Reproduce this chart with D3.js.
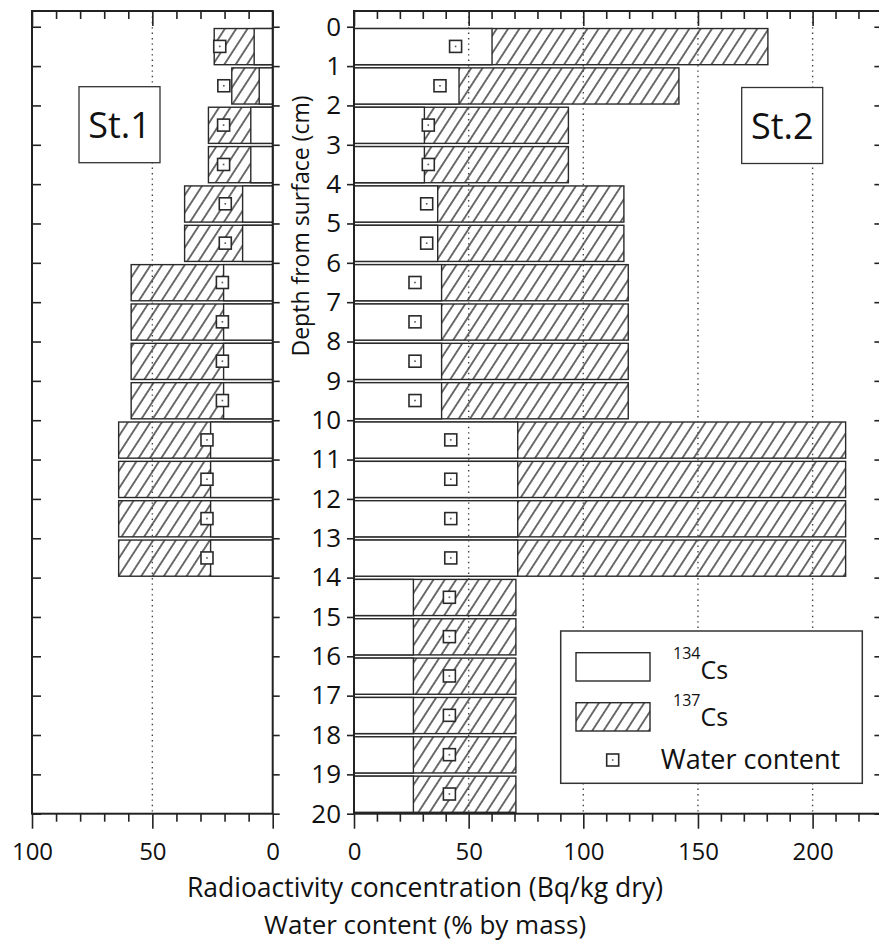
<!DOCTYPE html>
<html>
<head>
<meta charset="utf-8">
<style>
  body { margin: 0; background: #fff; }
  text { font-family: "Open Sans", "Noto Sans", sans-serif; fill: #111; }
</style>
</head>
<body>
<svg id="chart" width="879" height="942"></svg>
<script src="https://d3js.org/d3.v7.min.js"></script>
<script>
// depth intervals (cm): row i spans i..i+1
const depths = [0, 1, 2, 3, 4, 5, 6, 7, 8, 9, 10, 11, 12, 13, 14, 15, 16, 17, 18, 19];
const depthTicks = [0, 1, 2, 3, 4, 5, 6, 7, 8, 9, 10, 11, 12, 13, 14, 15, 16, 17, 18, 19, 20];

// St.1 (Bq/kg dry, water %)
const st1Cs134 = [7.7, 5.6, 9.1, 9.1, 12.5, 12.5, 20.4, 20.4, 20.4, 20.4, 25.8, 25.8, 25.8, 25.8, null, null, null, null, null, null];
const st1Cs137 = [24.3, 17, 26.7, 26.7, 36.6, 36.6, 58.8, 58.8, 58.8, 58.8, 64, 64, 64, 64, null, null, null, null, null, null];
const st1Water = [22, 20.3, 20.4, 20.4, 19.7, 19.7, 20.9, 20.9, 20.9, 20.9, 27.3, 27.3, 27.3, 27.3, null, null, null, null, null, null];

// St.2
const st2Cs134 = [60.2, 45.8, 30.7, 30.7, 36.5, 36.5, 38.2, 38.2, 38.2, 38.2, 71.4, 71.4, 71.4, 71.4, 25.9, 25.9, 25.9, 25.9, 25.9, 25.9];
const st2Cs137 = [180.5, 141.7, 93.5, 93.5, 117.7, 117.7, 119.6, 119.6, 119.6, 119.6, 214.4, 214.4, 214.4, 214.4, 70.6, 70.6, 70.6, 70.6, 70.6, 70.6];
const st2Water = [44.3, 37.5, 32.4, 32.4, 31.7, 31.7, 26.6, 26.6, 26.6, 26.6, 42.2, 42.2, 42.2, 42.2, 41.6, 41.6, 41.6, 41.6, 41.6, 41.6];

const st1Ticks = [0, 10, 20, 30, 40, 50, 60, 70, 80, 90, 100];
const st2Ticks = [0, 10, 20, 30, 40, 50, 60, 70, 80, 90, 100, 110, 120, 130, 140, 150, 160, 170, 180, 190, 200, 210, 220, 230];
const st1Grid = [50];
const st2Grid = [50, 100, 150, 200];

const svg = d3.select("#chart");
const yTop = 11, yBottom = 813.7;
const ink = "#222";

const y = d3.scaleLinear().domain([-0.4, 20]).range([yTop, yBottom]);

// hatch for 137Cs
const defs = svg.append("defs");
const hatch = defs.append("pattern")
  .attr("id", "hatch")
  .attr("patternUnits", "userSpaceOnUse")
  .attr("width", 9.5).attr("height", 9.5)
  .attr("patternTransform", "rotate(33)");
hatch.append("rect").attr("width", 9.5).attr("height", 9.5).attr("fill", "#fff");
hatch.append("line")
  .attr("x1", 4.75).attr("y1", -1).attr("x2", 4.75).attr("y2", 10.5)
  .attr("stroke", "#222").attr("stroke-width", 1.3);

function drawPanel(p) {
  const x = p.x;
  const g = svg.append("g");
  const [x0, x1] = x.range();

  // 137Cs bars (hatched), 134Cs (white) over them
  const rows = depths.filter(d => p.cs137[d] != null);
  g.selectAll("rect.cs137").data(rows).join("rect")
    .attr("class", "cs137")
    .attr("x", d => Math.min(x(0), x(p.cs137[d])))
    .attr("width", d => Math.abs(x(p.cs137[d]) - x(0)))
    .attr("y", d => y(d) + 1.8)
    .attr("height", d => y(d + 1) - y(d) - 3.2)
    .attr("fill", "url(#hatch)")
    .attr("stroke", "#2a2a2a").attr("stroke-width", 1.4);
  g.selectAll("rect.cs134").data(rows).join("rect")
    .attr("class", "cs134")
    .attr("x", d => Math.min(x(0), x(p.cs134[d])))
    .attr("width", d => Math.abs(x(p.cs134[d]) - x(0)))
    .attr("y", d => y(d) + 1.8)
    .attr("height", d => y(d + 1) - y(d) - 3.2)
    .attr("fill", "#fff")
    .attr("stroke", "#2a2a2a").attr("stroke-width", 1.4);

  // dotted grid
  g.selectAll("line.grid").data(p.grid).join("line")
    .attr("class", "grid")
    .attr("x1", d => x(d)).attr("x2", d => x(d))
    .attr("y1", yTop).attr("y2", yBottom)
    .attr("stroke", "#444").attr("stroke-width", 1.4)
    .attr("stroke-dasharray", "1.4,4");

  // water content markers
  const wrows = depths.filter(d => p.water[d] != null);
  const mk = g.selectAll("g.water").data(wrows).join("g")
    .attr("class", "water")
    .attr("transform", d => `translate(${x(p.water[d])},${y(d + 0.5)})`);
  mk.append("rect").attr("x", -6).attr("y", -6).attr("width", 12).attr("height", 12)
    .attr("fill", "#fff").attr("stroke", "#2a2a2a").attr("stroke-width", 1.6);
  mk.append("rect").attr("x", -0.8).attr("y", -0.8).attr("width", 1.6).attr("height", 1.6)
    .attr("fill", "#555");

  // frame
  g.append("rect")
    .attr("x", x0).attr("y", yTop)
    .attr("width", x1 - x0).attr("height", yBottom - yTop)
    .attr("fill", "none").attr("stroke", ink).attr("stroke-width", 2);

  // x ticks, all pointing down
  const minor = p.ticks.filter(v => v % 50 !== 0);
  const major = p.ticks.filter(v => v % 50 === 0);
  [yTop, yBottom].forEach(ty => {
    g.append("g").attr("transform", `translate(0,${ty})`)
      .call(d3.axisBottom(x).tickValues(minor).tickSize(8).tickFormat(""));
    g.append("g").attr("class", "xmajor")
      .attr("transform", `translate(0,${ty})`)
      .call(d3.axisBottom(x).tickValues(major).tickSize(15).tickPadding(14)
        .tickFormat(ty === yBottom ? d3.format("d") : ""));
  });

  // y ticks
  const yaxis = p.side === "right" ? d3.axisRight : d3.axisLeft;
  g.append("g").attr("class", "yax").attr("transform", `translate(${x0},0)`)
    .call(yaxis(y).tickValues(depthTicks).tickSize(p.side === "right" ? 9 : 7).tickPadding(6)
      .tickFormat(p.labels ? d3.format("d") : ""));
  g.append("g").attr("transform", `translate(${x1},0)`)
    .call(yaxis(y).tickValues(depthTicks).tickSize(7).tickFormat(""));

  g.selectAll(".domain").remove();
  g.selectAll(".tick line").attr("stroke", ink).attr("stroke-width", 1.6);
  g.selectAll(".tick text").attr("fill", "#111")
    .style("font-family", '"Open Sans", sans-serif');
  g.selectAll(".xmajor .tick text").attr("font-size", 24);
  g.selectAll(".yax .tick text").attr("font-size", 26);

  // station box
  const b = g.append("g").attr("transform", `translate(${p.box[0]},${p.box[1]})`);
  b.append("rect").attr("width", 81).attr("height", 76)
    .attr("fill", "#fff").attr("stroke", "#333").attr("stroke-width", 1.3);
  b.append("text").attr("x", 40.5).attr("y", 51)
    .attr("text-anchor", "middle").attr("font-size", 36).text(p.name);
}

drawPanel({
  name: "St.1",
  x: d3.scaleLinear().domain([100, 0]).range([32, 272.7]),
  cs134: st1Cs134, cs137: st1Cs137, water: st1Water,
  ticks: st1Ticks, grid: st1Grid, side: "right", labels: false, box: [79, 86.7]
});
drawPanel({
  name: "St.2",
  x: d3.scaleLinear().domain([0, 230]).range([354, 881.4]),
  cs134: st2Cs134, cs137: st2Cs137, water: st2Water,
  ticks: st2Ticks, grid: st2Grid, side: "left", labels: true, box: [741.7, 87.5]
});

// axis titles
svg.append("text").attr("x", 425).attr("y", 897)
  .attr("text-anchor", "middle").attr("font-size", 26.5)
  .text("Radioactivity concentration (Bq/kg dry)");
svg.append("text").attr("x", 425).attr("y", 934)
  .attr("text-anchor", "middle").attr("font-size", 26)
  .text("Water content (% by mass)");
svg.append("text")
  .attr("transform", "translate(300,226) rotate(-90)")
  .attr("text-anchor", "middle").attr("dominant-baseline", "central")
  .attr("font-size", 23)
  .text("Depth from surface (cm)");

// legend
const lg = svg.append("g").attr("transform", "translate(560.7,631)");
lg.append("rect").attr("width", 301.6).attr("height", 152.3)
  .attr("fill", "#fff").attr("stroke", "#333").attr("stroke-width", 1.5);
lg.append("rect").attr("x", 15.3).attr("y", 21.7).attr("width", 74).attr("height", 28.3)
  .attr("fill", "#fff").attr("stroke", "#2a2a2a").attr("stroke-width", 1.4);
lg.append("rect").attr("x", 15.3).attr("y", 71.7).attr("width", 74).attr("height", 28.3)
  .attr("fill", "url(#hatch)").attr("stroke", "#2a2a2a").attr("stroke-width", 1.4);
const lm = lg.append("g").attr("transform", "translate(52,129)");
lm.append("rect").attr("x", -6).attr("y", -6).attr("width", 12).attr("height", 12)
  .attr("fill", "#fff").attr("stroke", "#2a2a2a").attr("stroke-width", 1.6);
lm.append("rect").attr("x", -0.8).attr("y", -0.8).attr("width", 1.6).attr("height", 1.6)
  .attr("fill", "#555");

const isotopes = ["134", "137"];
isotopes.forEach((iso, i) => {
  const t = lg.append("text").attr("x", 112.3).attr("y", 47.5 + i * 47);
  t.append("tspan").attr("font-size", 16).attr("dy", -20).text(iso);
  t.append("tspan").attr("font-size", 25).attr("dy", 20).text("Cs");
});
lg.append("text").attr("x", 100).attr("y", 138.3).attr("font-size", 27).text("Water content");
</script>
</body>
</html>
